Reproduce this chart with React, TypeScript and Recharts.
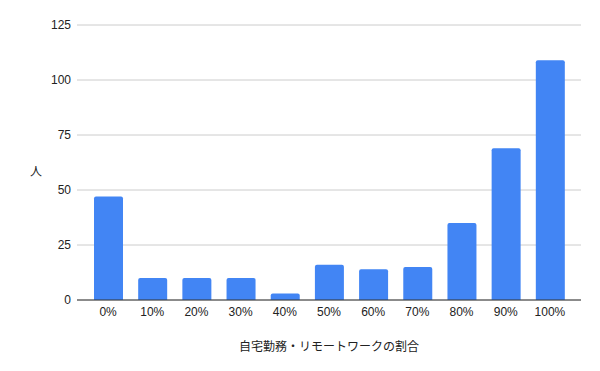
import { BarChart, Bar, XAxis, YAxis, CartesianGrid } from 'recharts';

const categories = ['0%', '10%', '20%', '30%', '40%', '50%', '60%', '70%', '80%', '90%', '100%'];
const people = [47, 10, 10, 10, 3, 16, 14, 15, 35, 69, 109];
const yTicks = [0, 25, 50, 75, 100, 125];

const data = categories.map((c, i) => ({ ratio: c, people: people[i] }));

const font = 'Arial, "Liberation Sans", "Noto Sans CJK JP", sans-serif';

export default function App() {
  return (
    <div style={{ position: 'absolute', left: 0, top: 0, background: '#fff' }}>
      <BarChart width={600} height={371} data={data} margin={{ top: 25, right: 19, bottom: 0, left: 0 }}>
        <CartesianGrid vertical={false} stroke="#cccccc" />
        <XAxis
          dataKey="ratio"
          height={71}
          padding={{ left: 9, right: 9 }}
          tickLine={false}
          tickSize={0}
          tickMargin={7}
          axisLine={{ stroke: '#333333' }}
          tick={{ fill: '#222222', fontSize: 12, fontFamily: font }}
          label={{ value: '自宅勤務・リモートワークの割合', position: 'insideBottom', offset: 20, fill: '#222222', fontSize: 12, fontFamily: font }}
        />
        <YAxis
          width={77}
          domain={[0, 125]}
          ticks={yTicks}
          axisLine={false}
          tickLine={false}
          tickSize={0}
          tickMargin={6}
          tick={{ fill: '#222222', fontSize: 12, fontFamily: font }}
          label={{ value: '人', angle: 0, position: 'insideLeft', offset: 30, dy: 9, fill: '#222222', fontSize: 12, fontFamily: font }}
        />
        <Bar dataKey="people" fill="#4285f4" barSize={29} radius={[2, 2, 0, 0]} isAnimationActive={false} />
      </BarChart>
    </div>
  );
}
